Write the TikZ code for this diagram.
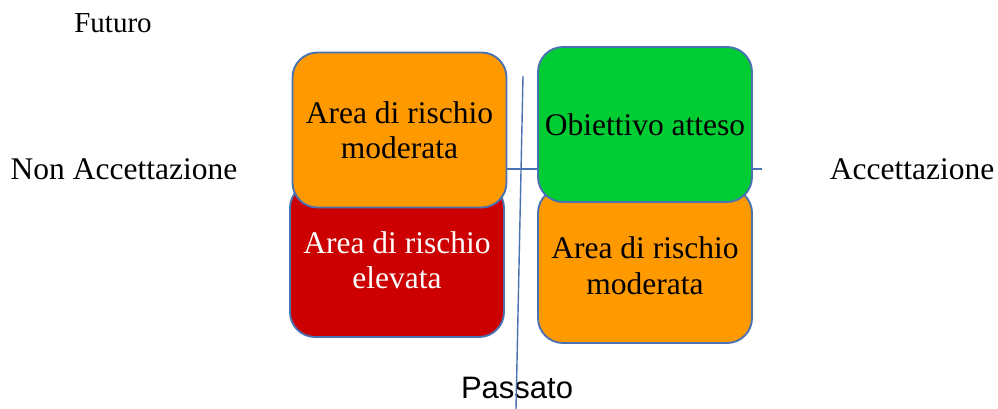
\documentclass[tikz,border=0pt]{standalone}
\usepackage{fontspec}
\setmainfont{Liberation Serif}
\newfontfamily\sansf{Liberation Sans}
\definecolor{edgeblue}{HTML}{4A72B0}
\definecolor{orangefill}{HTML}{FF9900}
\definecolor{redfill}{HTML}{CC0000}
\definecolor{greenfill}{HTML}{00CC33}
\begin{document}
\begin{tikzpicture}[x=1pt,y=-1pt,
  quad/.style={draw=edgeblue, line width=1.9pt, rounded corners=25pt,
    minimum width=214pt, inner sep=0pt, align=center,
    font=\fontsize{31.5}{35.5}\selectfont},
  axis/.style={draw=edgeblue, line width=1.4pt},
  lbl/.style={inner sep=0pt, anchor=base, font=\fontsize{31.5}{36}\selectfont}]
\useasboundingbox (0,0) rectangle (998,409);
\coordinate (hl) at (490,169);
\coordinate (hr) at (762,169);
\coordinate (vt) at (523,76);
\coordinate (vb) at (516,409);
\draw[axis] (hl) -- (hr);
\node[quad, fill=redfill, text=white, minimum height=154pt] (red) at (397,260) {Area di rischio\\elevata};
\node[quad, fill=orangefill, minimum height=155pt] (otl) at (399.5,130) {Area di rischio\\moderata};
\node[quad, fill=orangefill, minimum height=155pt] (obr) at (645,265.5) {Area di rischio\\moderata};
\node[quad, fill=greenfill, minimum height=155pt] (grn) at (645,124.5) {Obiettivo atteso};
\node[lbl, font=\fontsize{29}{33}\selectfont] (fut) at (113,33) {Futuro};
\node[lbl] (nacc) at (124,179) {Non Accettazione};
\node[lbl] (acc) at (912,179) {Accettazione};
\node[lbl, font=\sansf\fontsize{31}{36}\selectfont] (pas) at (517,398) {Passato};
\draw[axis] (vt) -- (vb);
\end{tikzpicture}
\end{document}
